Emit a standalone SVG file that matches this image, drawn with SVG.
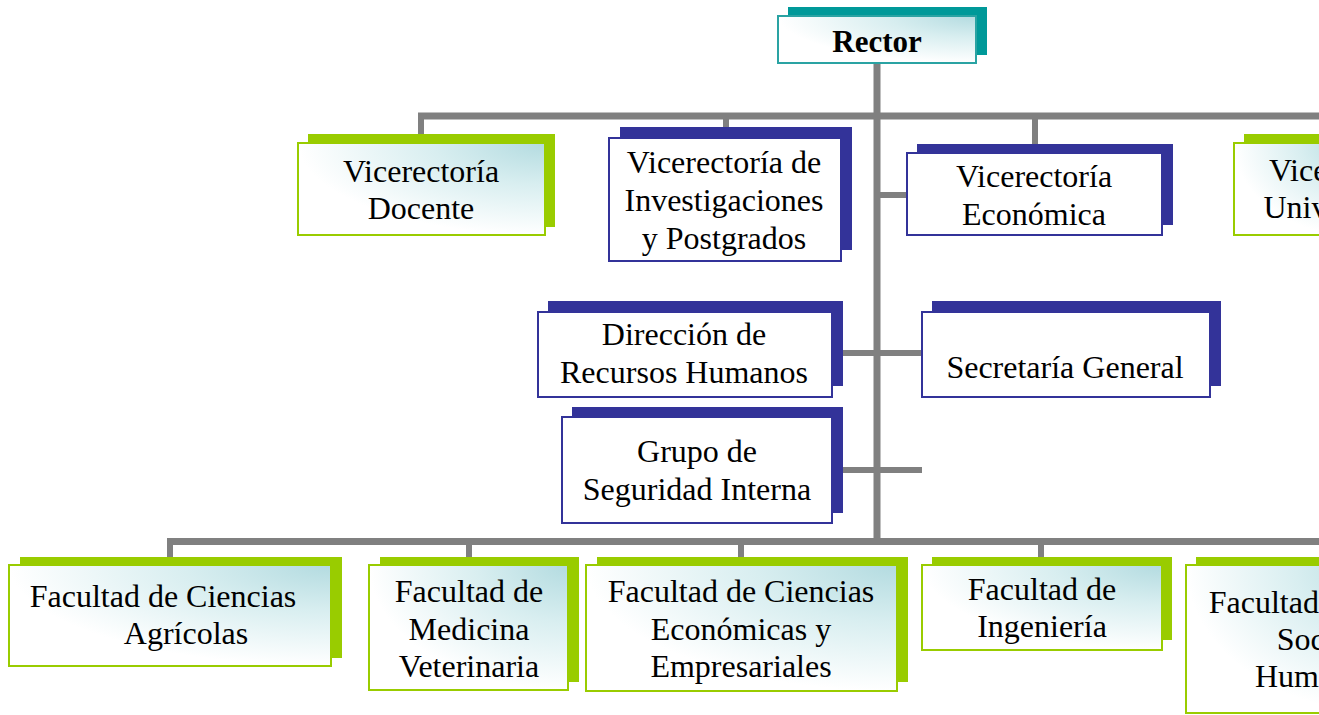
<svg xmlns="http://www.w3.org/2000/svg" width="1319" height="715" viewBox="0 0 1319 715">
<defs>
<radialGradient id="gr" cx="1" cy="0" r="1" fx="1" fy="0">
<stop offset="0" stop-color="#b3dbe0"/>
<stop offset="0.45" stop-color="#d8eef0"/>
<stop offset="1" stop-color="#ffffff"/>
</radialGradient>
</defs>
<style>
.t{font-family:"Liberation Serif","Times New Roman",serif;font-size:32px;fill:#000;text-anchor:middle}
.b{font-weight:bold;font-size:31px}
.sg{fill:#99cc00}
.fg{fill:url(#gr);stroke:#99cc00;stroke-width:2}
.sb{fill:#333399}
.fb{fill:#fff;stroke:#333399;stroke-width:2}
.st{fill:#009999}
.ft{fill:url(#gr);stroke:#2aa3a3;stroke-width:2}
.c{stroke:#808080;stroke-width:6;fill:none}
</style>
<g id="connectors">
<line class="c" x1="877" y1="63" x2="877" y2="545" style="stroke-width:7"/>
<line class="c" x1="418" y1="116" x2="1319" y2="116" style="stroke-width:7"/>
<line class="c" x1="421" y1="113" x2="421" y2="135"/>
<line class="c" x1="726" y1="116" x2="726" y2="128"/>
<line class="c" x1="1035" y1="116" x2="1035" y2="145"/>
<line class="c" x1="877" y1="195" x2="907" y2="195"/>
<line class="c" x1="843" y1="353" x2="921" y2="353"/>
<line class="c" x1="843" y1="470" x2="922" y2="470"/>
<line class="c" x1="167" y1="541.5" x2="1319" y2="541.5" style="stroke-width:7"/>
<line class="c" x1="170" y1="539" x2="170" y2="557"/>
<line class="c" x1="469" y1="541" x2="469" y2="557"/>
<line class="c" x1="741" y1="541" x2="741" y2="557"/>
<line class="c" x1="1041" y1="541" x2="1041" y2="557"/>
</g>
<g id="rector">
<rect class="st" x="788" y="7" width="199" height="48"/>
<rect class="ft" x="778" y="16" width="198" height="47"/>
<text class="t b" x="877" y="52">Rector</text>
</g>
<g id="vic-docente">
<rect class="sg" x="308" y="134" width="247" height="93"/>
<rect class="fg" x="298" y="143" width="247" height="92"/>
<text class="t" x="421" y="182">Vicerectoría</text>
<text class="t" x="421" y="219">Docente</text>
</g>
<g id="vic-investigaciones">
<rect class="sb" x="620" y="127" width="232" height="123"/>
<rect class="fb" x="609" y="138" width="232" height="123"/>
<text class="t" x="724" y="173">Vicerectoría de</text>
<text class="t" x="724" y="211">Investigaciones</text>
<text class="t" x="724" y="249">y Postgrados</text>
</g>
<g id="vic-economica">
<rect class="sb" x="917" y="144" width="256" height="81"/>
<rect class="fb" x="907" y="153" width="255" height="82"/>
<text class="t" x="1034" y="187">Vicerectoría</text>
<text class="t" x="1034" y="225">Económica</text>
</g>
<g id="vic-universitaria">
<rect class="sg" x="1244" y="134" width="120" height="93"/>
<rect class="fg" x="1234" y="143" width="120" height="92"/>
<text class="t" x="1347" y="181">Vicerectoría</text>
<text class="t" x="1347" y="218">Universitaria</text>
</g>
<g id="dir-rrhh">
<rect class="sb" x="548" y="301" width="295" height="85"/>
<rect class="fb" x="538" y="312" width="294" height="85"/>
<text class="t" x="684" y="345">Dirección de</text>
<text class="t" x="684" y="383">Recursos Humanos</text>
</g>
<g id="secretaria">
<rect class="sb" x="932" y="301" width="289" height="85"/>
<rect class="fb" x="922" y="312" width="288" height="85"/>
<text class="t" x="1065" y="378">Secretaría General</text>
</g>
<g id="seguridad">
<rect class="sb" x="572" y="407" width="271" height="106"/>
<rect class="fb" x="562" y="417" width="270" height="106"/>
<text class="t" x="697" y="462">Grupo de</text>
<text class="t" x="697" y="500">Seguridad Interna</text>
</g>
<g id="fac-agricolas">
<rect class="sg" x="20" y="557" width="322" height="101"/>
<rect class="fg" x="9" y="565" width="322" height="101"/>
<text class="t" x="163" y="607">Facultad de Ciencias</text>
<text class="t" x="186" y="644">Agrícolas</text>
</g>
<g id="fac-veterinaria">
<rect class="sg" x="380" y="557" width="199" height="125"/>
<rect class="fg" x="369" y="565" width="199" height="125"/>
<text class="t" x="469" y="602">Facultad de</text>
<text class="t" x="469" y="640">Medicina</text>
<text class="t" x="469" y="677">Veterinaria</text>
</g>
<g id="fac-economicas">
<rect class="sg" x="597" y="557" width="311" height="125"/>
<rect class="fg" x="586" y="565" width="311" height="126"/>
<text class="t" x="741" y="602">Facultad de Ciencias</text>
<text class="t" x="741" y="640">Económicas y</text>
<text class="t" x="741" y="677">Empresariales</text>
</g>
<g id="fac-ingenieria">
<rect class="sg" x="932" y="557" width="240" height="83"/>
<rect class="fg" x="922" y="565" width="240" height="85"/>
<text class="t" x="1042" y="600">Facultad de</text>
<text class="t" x="1042" y="637">Ingeniería</text>
</g>
<g id="fac-sociales">
<rect class="sg" x="1196" y="557" width="200" height="150"/>
<rect class="fg" x="1186" y="565" width="200" height="148"/>
<text class="t" x="1342" y="613">Facultad de Ciencias</text>
<text class="t" x="1342" y="650">Sociales y</text>
<text class="t" x="1342" y="687">Humanísticas</text>
</g>
</svg>
